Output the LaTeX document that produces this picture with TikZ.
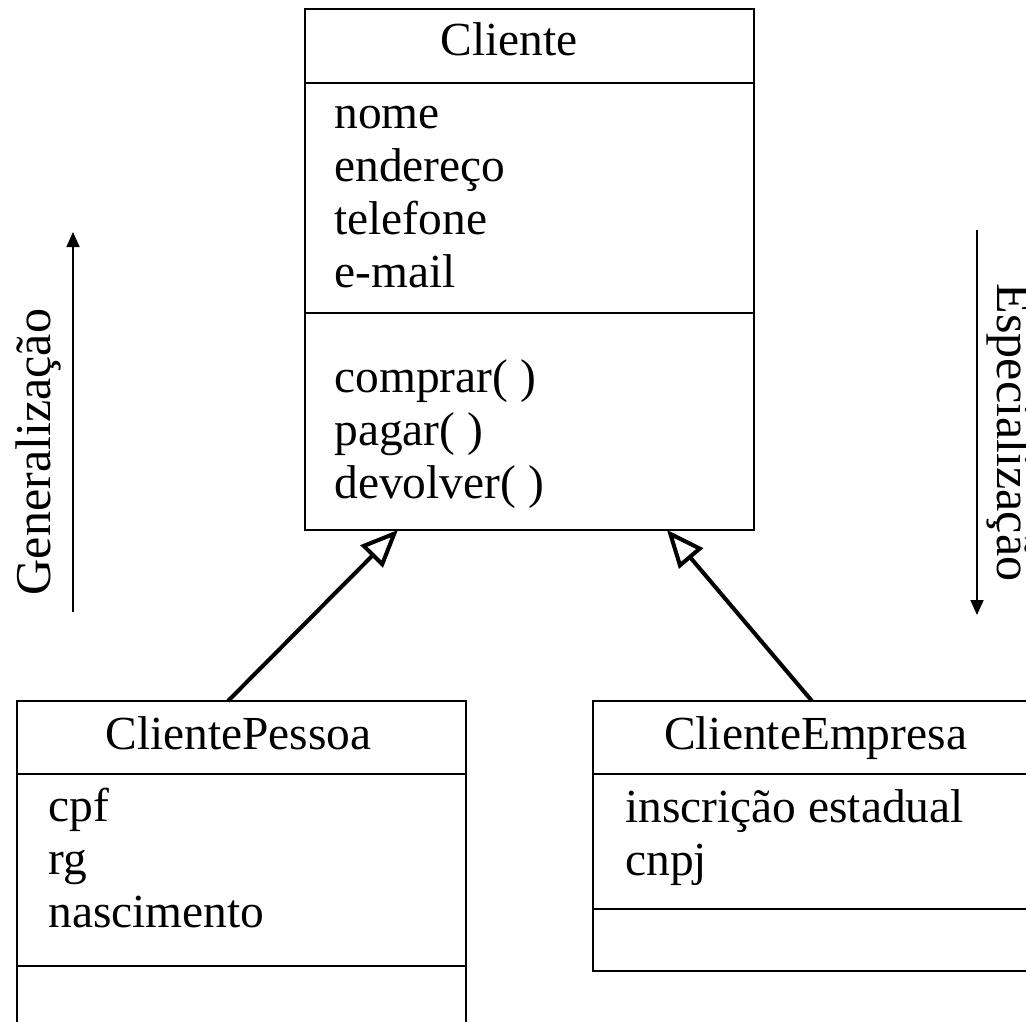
\documentclass[tikz,border=0pt]{standalone}
\usepackage{fontspec}
\setmainfont{Liberation Serif}
\usetikzlibrary{arrows.meta,calc}

\begin{document}
\begin{tikzpicture}[x=0.02cm,y=-0.02cm,
  classbox/.style={draw,line width=1.6pt,anchor=north west,inner sep=0pt,outer sep=0pt},
  sep/.style={line width=1.6pt},
  txt/.style={font=\fontsize{27}{30}\selectfont,inner sep=0pt},
  members/.style={txt,align=left,anchor=base west},
  side/.style={font=\fontsize{28.5}{30}\selectfont,inner sep=0pt,anchor=base},
  inherit/.style={line width=2.3pt,-{Triangle[open,length=0.75cm,width=0.62cm]}},
  dir/.style={line width=1pt,-{Triangle[length=0.3cm,width=0.26cm]}}]

\useasboundingbox[fill=white] (0,0) rectangle (1026,1021);
\clip (0,0) rectangle (1026,1021);

% classes (members placed by their last baseline)
\node (cliente) at (305,9) [classbox,minimum width=8.98cm,minimum height=10.42cm] {};
\draw[sep] (305,83) -- (754,83);
\draw[sep] (305,313) -- (754,313);
\node (clititle) at (509,55) [txt,anchor=base] {Cliente};
\node (cliattr) at (334,287) [members] {nome\\endereço\\telefone\\e-mail};
\node (climeth) at (334,498) [members] {comprar( )\\pagar( )\\devolver( )};

\node (pessoa) at (17,701) [classbox,minimum width=8.98cm,minimum height=6.78cm] {};
\draw[sep] (17,774) -- (466,774);
\draw[sep] (17,966) -- (466,966);
\node (pestitle) at (238.5,749) [txt,anchor=base] {ClientePessoa};
\node (pesattr) at (48,927) [members] {cpf\\rg\\nascimento};

\node (empresa) at (593,701) [classbox,minimum width=8.98cm,minimum height=5.4cm] {};
\draw[sep] (593,774) -- (1042,774);
\draw[sep] (593,909) -- (1042,909);
\node (emptitle) at (815.5,749) [txt,anchor=base] {ClienteEmpresa};
\node (empattr) at (625,875) [members] {inscrição estadual\\cnpj};

% heranca
\draw[inherit] ([xshift=-0.27cm]pessoa.north) -- ([xshift=-2.63cm]cliente.south);
\draw[inherit] ([xshift=-0.11cm]empresa.north) -- ([xshift=2.75cm]cliente.south);

% sentidos
\coordinate (g1) at (73,612);
\coordinate (g2) at (73,232);
\draw[dir] (g1) -- (g2);
\node (gen) at (50,452) [side,rotate=90] {Generalização};

\coordinate (e1) at (977,230);
\coordinate (e2) at (977,615);
\draw[dir] (e1) -- (e2);
\node (esp) at (997,432.5) [side,rotate=-90] {Especialização};

\end{tikzpicture}
\end{document}
